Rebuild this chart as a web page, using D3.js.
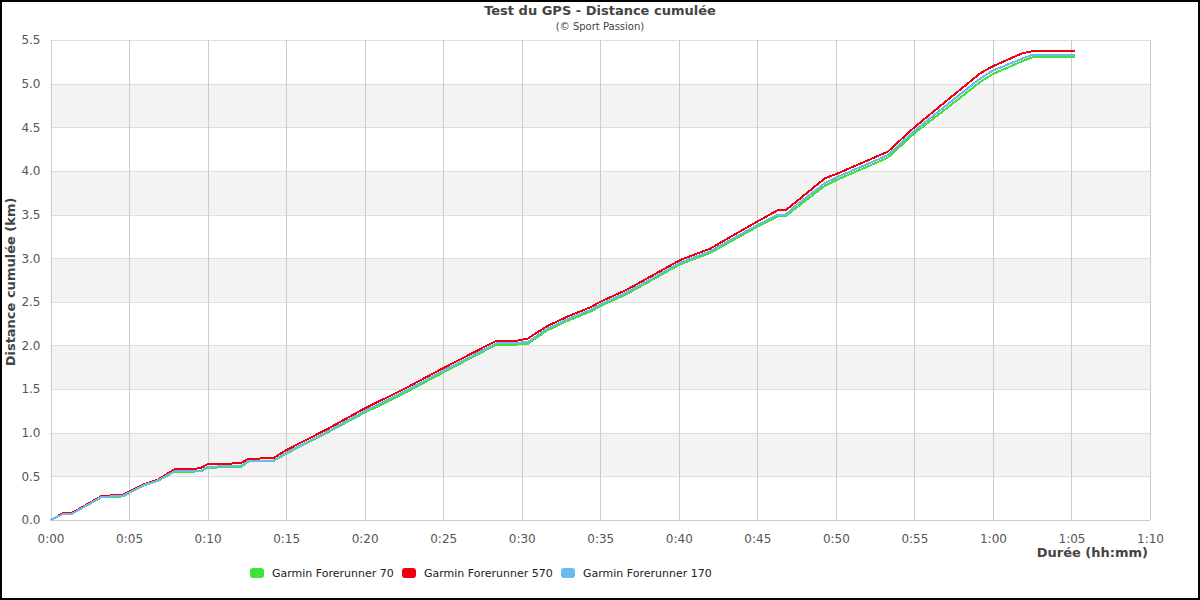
<!DOCTYPE html>
<html><head><meta charset="utf-8">
<script src="https://cdn.jsdelivr.net/npm/d3@7"></script>
<style>body{margin:0;background:#fff}svg{display:block;font-family:"DejaVu Sans",sans-serif}</style>
</head><body><svg id="c" width="1200" height="600"></svg>
<script>
// Time in minutes
const times = [0, 0.8, 1.35, 3.25, 4.6, 5.7, 6.1, 6.8, 7.9, 9.1, 9.6, 10.0, 12.1, 12.6, 14.2, 15.0, 17.5, 19.9, 22.5, 25.0, 28.4, 29.7, 30.4, 31.6, 32.9, 34.4, 35.0, 36.7, 38.8, 40.1, 42.0, 45.0, 46.3, 46.8, 47.5, 49.3, 50.1, 53.3, 55.0, 57.5, 59.2, 60.0, 61.9, 62.5, 65.2];
const fr70  = [0, 0.07, 0.07, 0.26, 0.27, 0.375, 0.405, 0.445, 0.555, 0.555, 0.56, 0.60, 0.605, 0.67, 0.675, 0.76, 0.99, 1.22, 1.45, 1.69, 2.01, 2.01, 2.02, 2.17, 2.28, 2.39, 2.45, 2.59, 2.80, 2.93, 3.06, 3.36, 3.48, 3.48, 3.58, 3.83, 3.90, 4.15, 4.43, 4.78, 5.02, 5.11, 5.26, 5.30, 5.30];
const fr570 = [0, 0.08, 0.08, 0.275, 0.29, 0.39, 0.42, 0.46, 0.58, 0.58, 0.60, 0.64, 0.65, 0.70, 0.71, 0.80, 1.03, 1.27, 1.50, 1.74, 2.055, 2.055, 2.08, 2.22, 2.33, 2.44, 2.50, 2.64, 2.85, 2.98, 3.11, 3.42, 3.55, 3.55, 3.65, 3.915, 3.97, 4.22, 4.50, 4.87, 5.12, 5.20, 5.35, 5.37, 5.37];
const fr170 = [0, 0.07, 0.07, 0.265, 0.275, 0.38, 0.41, 0.45, 0.56, 0.56, 0.565, 0.61, 0.62, 0.675, 0.68, 0.77, 1.00, 1.24, 1.47, 1.71, 2.025, 2.03, 2.04, 2.19, 2.30, 2.41, 2.47, 2.61, 2.82, 2.95, 3.08, 3.38, 3.50, 3.50, 3.61, 3.86, 3.93, 4.18, 4.46, 4.82, 5.06, 5.15, 5.29, 5.33, 5.33];
const seriesNames = ["Garmin Forerunner 70", "Garmin Forerunner 570", "Garmin Forerunner 170"];
const seriesColors = ["#3fe23a", "#f0000c", "#6cb8ef"];
const seriesValues = [fr70, fr570, fr170];
const xTicks = [0,5,10,15,20,25,30,35,40,45,50,55,60,65,70];
const yTicks = [0,0.5,1,1.5,2,2.5,3,3.5,4,4.5,5,5.5];

const svg = d3.select("#c");
const L = 50.5, R = 1150, T = 40, B = 520;
const x = d3.scaleLinear().domain([0,70]).range([L,R]);
const y = d3.scaleLinear().domain([0,5.5]).range([B,T]);
const fmt = m => Math.floor(m/60) + ":" + String(m%60).padStart(2,"0");

// bands
for (let i=1;i<yTicks.length-1;i+=2){
  svg.append("rect").attr("x",L).attr("width",R-L)
    .attr("y",y(yTicks[i+1])).attr("height",y(yTicks[i])-y(yTicks[i+1]))
    .attr("fill","#f3f3f3");
}
// horizontal grid
svg.append("g").selectAll("line").data(yTicks).join("line")
  .attr("x1",L).attr("x2",R).attr("y1",d=>Math.round(y(d))+0.5).attr("y2",d=>Math.round(y(d))+0.5)
  .attr("stroke","#dedede");
// vertical grid
svg.append("g").selectAll("line").data(xTicks).join("line")
  .attr("y1",T).attr("y2",B).attr("x1",d=>Math.round(x(d))+0.5).attr("x2",d=>Math.round(x(d))+0.5)
  .attr("stroke","#cccccc");
svg.append("line").attr("x1",L).attr("x2",R).attr("y1",B+0.5).attr("y2",B+0.5).attr("stroke","#cccccc");

// axis labels
const yAxis = d3.axisLeft(y).tickValues(yTicks).tickFormat(d3.format(".1f")).tickSize(0).tickPadding(10);
const gy = svg.append("g").attr("transform",`translate(${L},0)`).call(yAxis);
gy.select(".domain").remove();
gy.selectAll("text").attr("fill","#555").attr("font-size",12).attr("font-family","DejaVu Sans");
const xAxis = d3.axisBottom(x).tickValues(xTicks).tickFormat(fmt).tickSize(0).tickPadding(14);
const gx = svg.append("g").attr("transform",`translate(0,${B})`).call(xAxis);
gx.select(".domain").remove();
gx.selectAll("text").attr("fill","#555").attr("font-size",12).attr("font-family","DejaVu Sans");

// lines
const line = d3.line().x((d,i)=>x(times[i])).y(d=>y(d));
seriesValues.forEach((vals,k)=>{
  svg.append("path").datum(vals).attr("d",line).attr("fill","none")
    .attr("stroke",seriesColors[k]).attr("stroke-width",2)
    .attr("shape-rendering","crispEdges");
});

// titles
svg.append("text").attr("x",600).attr("y",15).attr("text-anchor","middle")
  .attr("font-weight","bold").attr("font-size",13).attr("fill","#444").text("Test du GPS - Distance cumulée");
svg.append("text").attr("x",600).attr("y",30).attr("text-anchor","middle")
  .attr("font-size",10).attr("fill","#444").text("(© Sport Passion)");
svg.append("text").attr("transform","translate(15,282) rotate(-90)").attr("text-anchor","middle")
  .attr("font-weight","bold").attr("font-size",13).attr("fill","#444").text("Distance cumulée (km)");
svg.append("text").attr("x",1148).attr("y",557).attr("text-anchor","end")
  .attr("font-weight","bold").attr("font-size",13).attr("fill","#444").text("Durée (hh:mm)");

// legend
const legX = [250, 402, 561];
seriesNames.forEach((n,k)=>{
  svg.append("rect").attr("x",legX[k]).attr("y",568).attr("width",14).attr("height",10).attr("rx",3)
    .attr("fill",seriesColors[k]);
  svg.append("text").attr("x",legX[k]+22).attr("y",577).attr("font-size",11).attr("fill","#222").text(n);
});

// frame
svg.append("rect").attr("x",1).attr("y",1).attr("width",1198).attr("height",598)
  .attr("fill","none").attr("stroke","#000").attr("stroke-width",2);
</script></body></html>
